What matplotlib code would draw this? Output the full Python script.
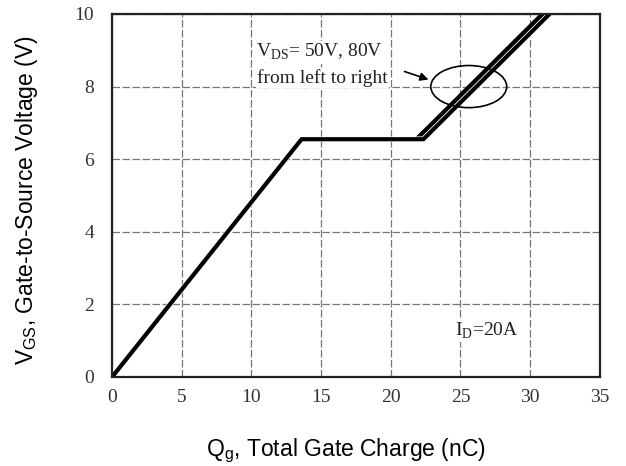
import matplotlib
matplotlib.use("Agg")
import matplotlib.pyplot as plt
import matplotlib.patheffects as pe
from matplotlib.patches import Ellipse

# gate charge curves, VDS = 50 V and 80 V
q_50v = [0, 13.6, 21.85, 30.9]
q_80v = [0, 13.6, 22.35, 31.4]
vgs = [0, 6.55, 6.55, 10]

x_ticks = [0, 5, 10, 15, 20, 25, 30, 35]
y_ticks = [0, 2, 4, 6, 8, 10]

serif = ['Liberation Serif', 'DejaVu Serif']
sans = ['Liberation Sans', 'DejaVu Sans']

fig = plt.figure(figsize=(6.26, 4.66), dpi=100)
ax = fig.add_axes([0.179, 0.191, 0.779, 0.779])

ax.plot(q_50v, vgs, color='black', lw=3.2, solid_joinstyle='miter', zorder=3)
# second curve gets a thin white edge so the two traces stay apart
ax.plot(q_80v, vgs, color='black', lw=3.0, solid_joinstyle='miter', zorder=3,
        path_effects=[pe.Stroke(linewidth=4.0, foreground='white'), pe.Normal()])

ax.set_xlim(0, 35)
ax.set_ylim(0, 10)
ax.set_xticks(x_ticks)
ax.set_yticks(y_ticks)
ax.tick_params(length=0)
ax.tick_params(axis='x', pad=9)
ax.tick_params(axis='y', pad=13)
for lbl in ax.get_xticklabels() + ax.get_yticklabels():
    lbl.set_family(serif)
    lbl.set_fontsize(14)
    lbl.set_color('#333333')

ax.grid(True, color='#777777', linestyle=(0, (6, 2)), linewidth=0.9)
for s in ax.spines.values():
    s.set_linewidth(1.6)
    s.set_color('#222222')
    s.set_zorder(5)

# annotation
ax.add_patch(Ellipse((25.6, 8.0), 5.45, 1.16, fill=False, edgecolor='black', lw=1.2, zorder=4))
ax.annotate('', xy=(22.9, 8.17), xytext=(20.8, 8.44),
            arrowprops=dict(arrowstyle='-|>', color='black', lw=1.2, mutation_scale=12))
box = dict(facecolor='white', edgecolor='none', pad=1)
ax.text(14.9, 8.95, r'V$_{\mathregular{DS}}$= 50V, 80V', family=serif, fontsize=14,
        ha='center', va='center', color='#222222', bbox=box)
ax.text(15.1, 8.24, 'from left to right', family=serif, fontsize=14,
        ha='center', va='center', color='#222222', bbox=box)
ax.text(24.6, 1.27, r'I$_{\mathregular{D}}$=20A', family=serif, fontsize=14,
        ha='left', va='center', color='#222222', bbox=box)

fig.text(0.553, 0.032, r'Q$_{\mathregular{g}}$, Total Gate Charge (nC)', family=sans,
         fontsize=16.5, ha='center', va='center')
fig.text(0.042, 0.571, r'V$_{\mathregular{GS}}$, Gate-to-Source Voltage (V)', family=sans,
         fontsize=16.5, ha='center', va='center', rotation=90)

fig.savefig('out.png', dpi=100)
